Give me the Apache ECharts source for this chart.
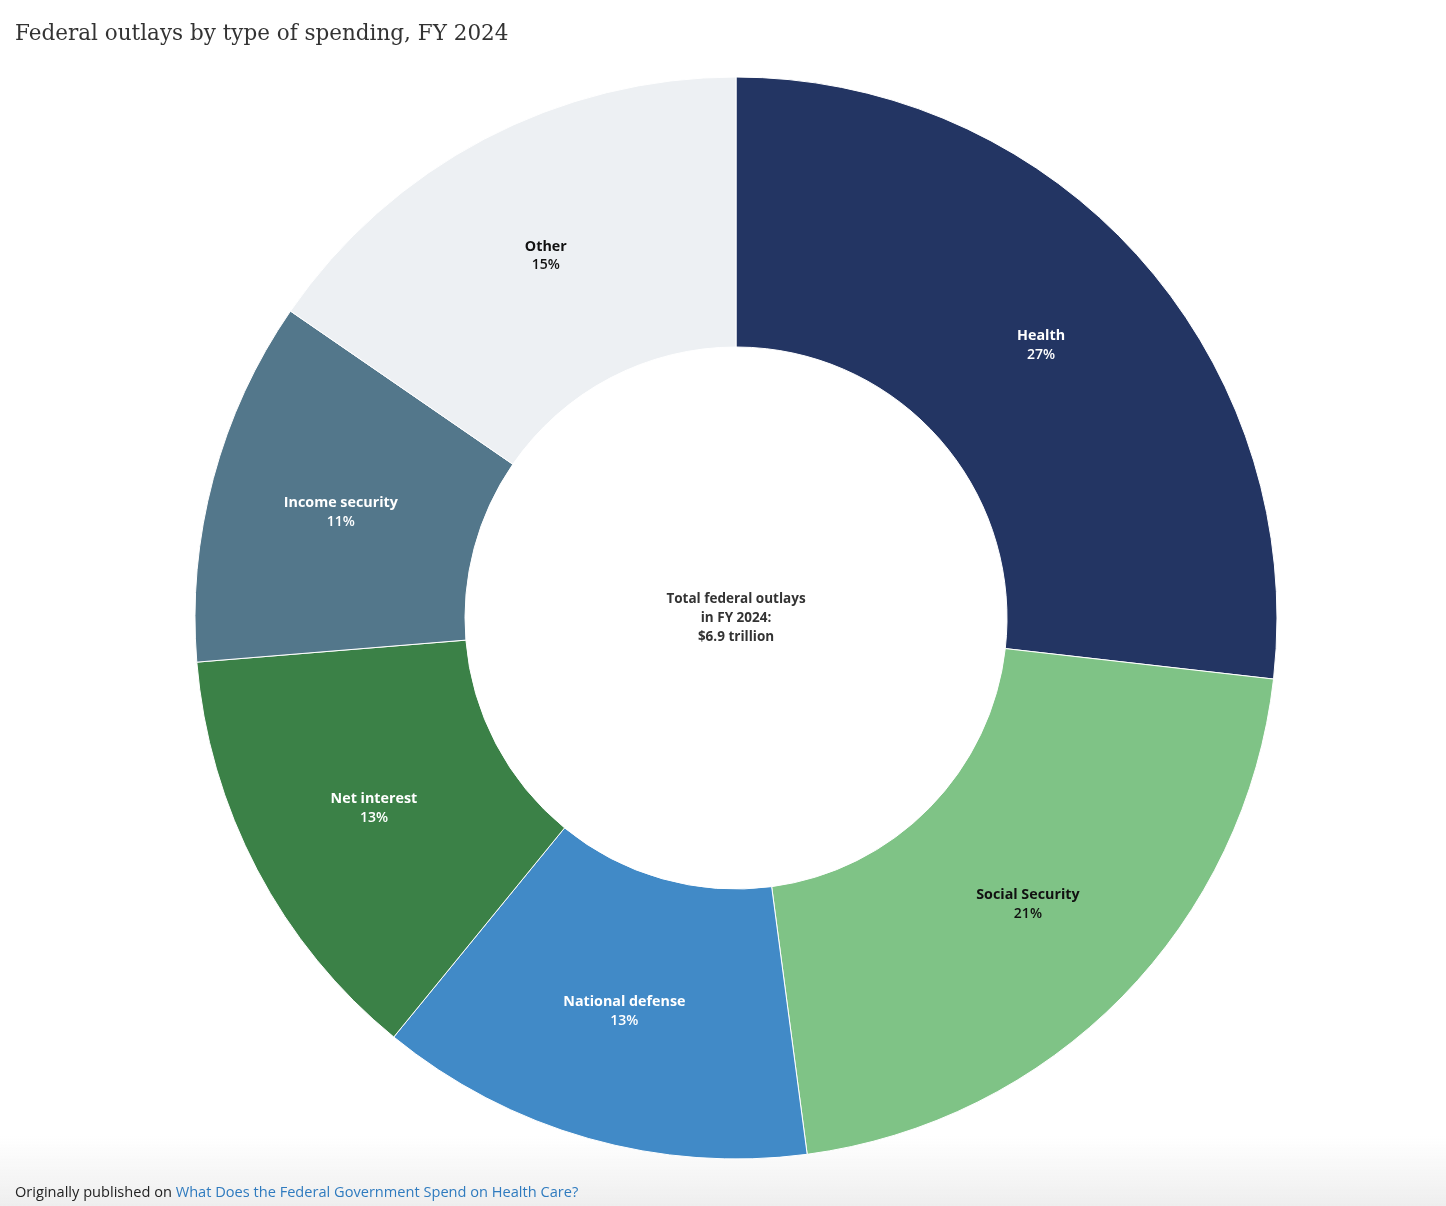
<!DOCTYPE html>
<html>
<head>
<meta charset="utf-8">
<script src="https://cdn.jsdelivr.net/npm/echarts@6/dist/echarts.min.js"></script>
<style>
html,body{margin:0;padding:0;background:#fff;}
#chart{width:1446px;height:1206px;}
</style>
</head>
<body>
<div id="chart"></div>
<script>
const categories = ['Health', 'Social Security', 'National defense', 'Net interest', 'Income security', 'Other'];
const values = [26.8, 21.1, 13.0, 12.8, 10.9, 15.4];
const colors = ['#233563', '#7fc386', '#418ac7', '#3b8147', '#53778b', '#edf0f3'];
const labelColors = ['#ffffff', '#111111', '#ffffff', '#ffffff', '#ffffff', '#111111'];

const chart = echarts.init(document.getElementById('chart'));
const data = categories.map((c, i) => ({
  name: c,
  value: values[i],
  itemStyle: { color: colors[i] },
  label: { color: labelColors[i], rich: { n: { color: labelColors[i] }, p: { color: labelColors[i] } } }
}));

chart.setOption({
  animation: false,
  graphic: [
    {
      type: 'rect', left: 0, top: 1136, silent: true, z: -10,
      shape: { width: 1446, height: 70 },
      style: { fill: new echarts.graphic.LinearGradient(0, 0, 0, 1, [
        { offset: 0, color: 'rgba(240,240,240,0)' },
        { offset: 1, color: 'rgba(238,238,238,1)' }
      ]) }
    },
    {
      type: 'text', left: 15, top: 23,
      style: { text: 'Federal outlays by type of spending, FY 2024', fill: '#333', font: '21.5px "DejaVu Serif"' }
    },
    {
      type: 'text', left: 15, top: 1185,
      style: {
        text: '{a|Originally published on }{b|What Does the Federal Government Spend on Health Care?}',
        rich: {
          a: { fill: '#222', fontSize: 14.6, fontFamily: 'Open Sans' },
          b: { fill: '#2f7bbf', fontSize: 14.6, fontFamily: 'Open Sans' }
        }
      }
    },
    {
      type: 'text',
      style: {
        x: 736, y: 590,
        text: 'Total federal outlays\nin FY 2024:\n$6.9 trillion',
        fill: '#333', font: 'bold 13.5px "Open Sans"', textAlign: 'center', lineHeight: 19
      }
    }
  ],
  series: [{
    type: 'pie',
    center: [736, 618],
    radius: [271, 541],
    startAngle: 90,
    clockwise: true,
    data: data,
    itemStyle: { borderColor: '#ffffff', borderWidth: 1 },
    label: {
      show: true,
      position: 'inside',
      formatter: p => '{n|' + p.name + '}\n{p|' + Math.round(p.value) + '%}',
      rich: {
        n: { fontFamily: 'Open Sans', fontWeight: 'bold', fontSize: 14.3, lineHeight: 19 },
        p: { fontFamily: 'Open Sans', fontWeight: 600, fontSize: 14, lineHeight: 19 }
      }
    },
    labelLine: { show: false },
    emphasis: { disabled: true }
  }]
});
</script>
</body>
</html>
